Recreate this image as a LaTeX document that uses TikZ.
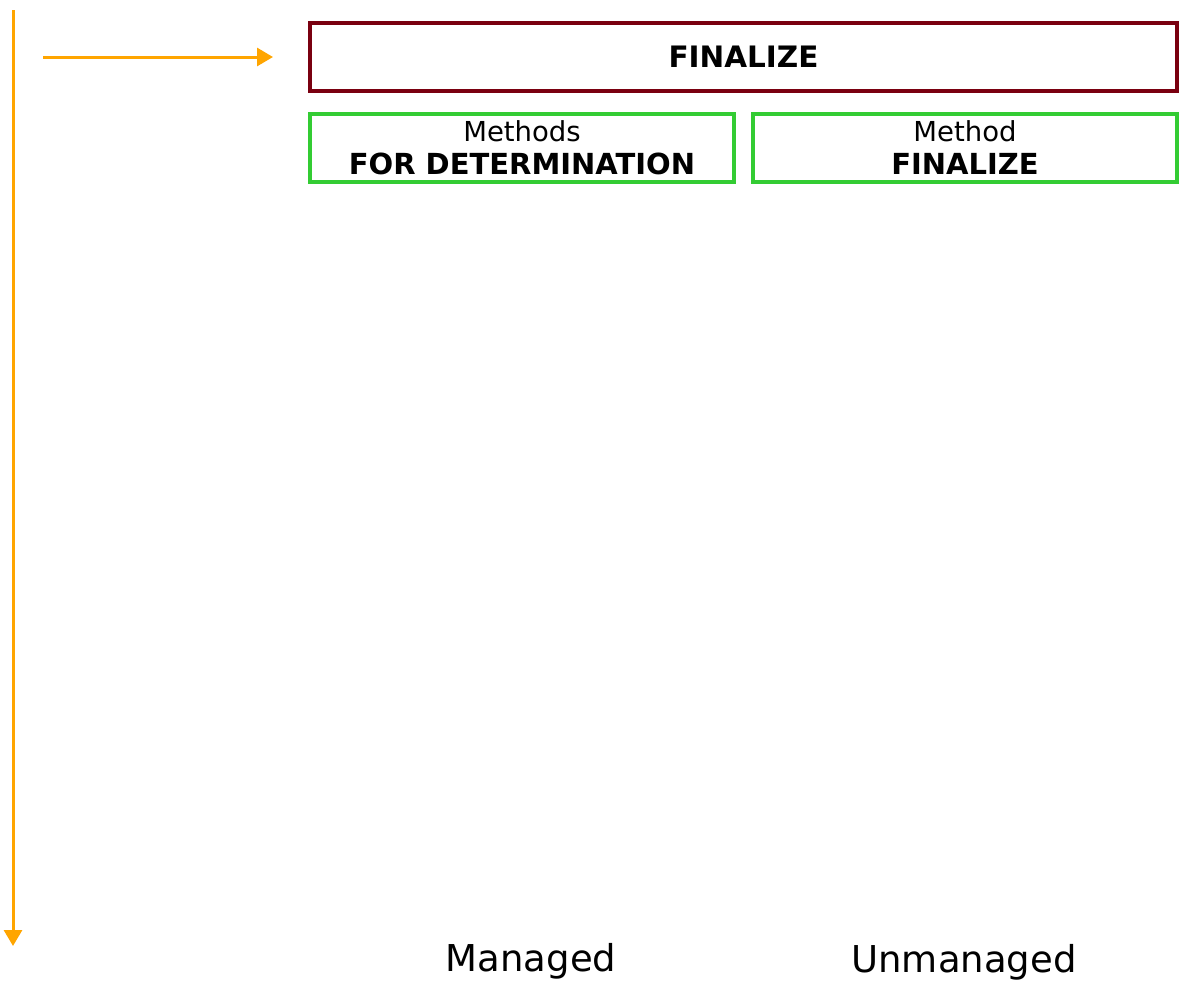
\documentclass[tikz,border=0pt]{standalone}
\usepackage{fontspec}
\setmainfont{DejaVu Sans}
\usetikzlibrary{arrows.meta}
\definecolor{arrorange}{HTML}{FFA500}
\definecolor{boxred}{HTML}{7A0010}
\definecolor{boxgreen}{HTML}{33CC33}
\newcommand{\bigbold}[1]{{\fontsize{29}{34}\selectfont\bfseries #1}}
\tikzset{
  flow/.style={draw=arrorange, line width=3pt, -{Triangle[length=16pt,width=18pt]}},
  redbox/.style={draw=boxred, line width=4pt, minimum width=867pt, minimum height=68pt, inner sep=0pt, font=\fontsize{29.5}{33}\selectfont\bfseries},
  greenbox/.style={draw=boxgreen, line width=3.5pt, minimum width=424pt, minimum height=68pt, inner sep=0pt, align=center, font=\fontsize{27.5}{33}\selectfont},
  bottomlabel/.style={inner sep=0pt, font=\fontsize{37}{40}\selectfont}
}
\begin{document}
\begin{tikzpicture}[x=1pt,y=-1pt]
\useasboundingbox (0,0) rectangle (1183,980);
\node[redbox] (finalize) at (743.5,57) {FINALIZE};
\node[greenbox, text depth=0pt] (methods) at (522,148) {Methods\\\bigbold{FOR DETERMINATION}};
\node[greenbox, text depth=0pt] (method) at (965,148) {Method\\\bigbold{FINALIZE}};
\node[bottomlabel] (managed) at (531,961) {Managed};
\node[bottomlabel] (unmanaged) at (964,962) {Unmanaged};
\coordinate (vtop) at (13,10);
\coordinate (vbot) at (13,946);
\coordinate (hstart) at (43,57);
\coordinate (hend) at (273,57);
\draw[flow] (vtop) -- (vbot);
\draw[flow] (hstart) -- (hend);
\end{tikzpicture}
\end{document}
